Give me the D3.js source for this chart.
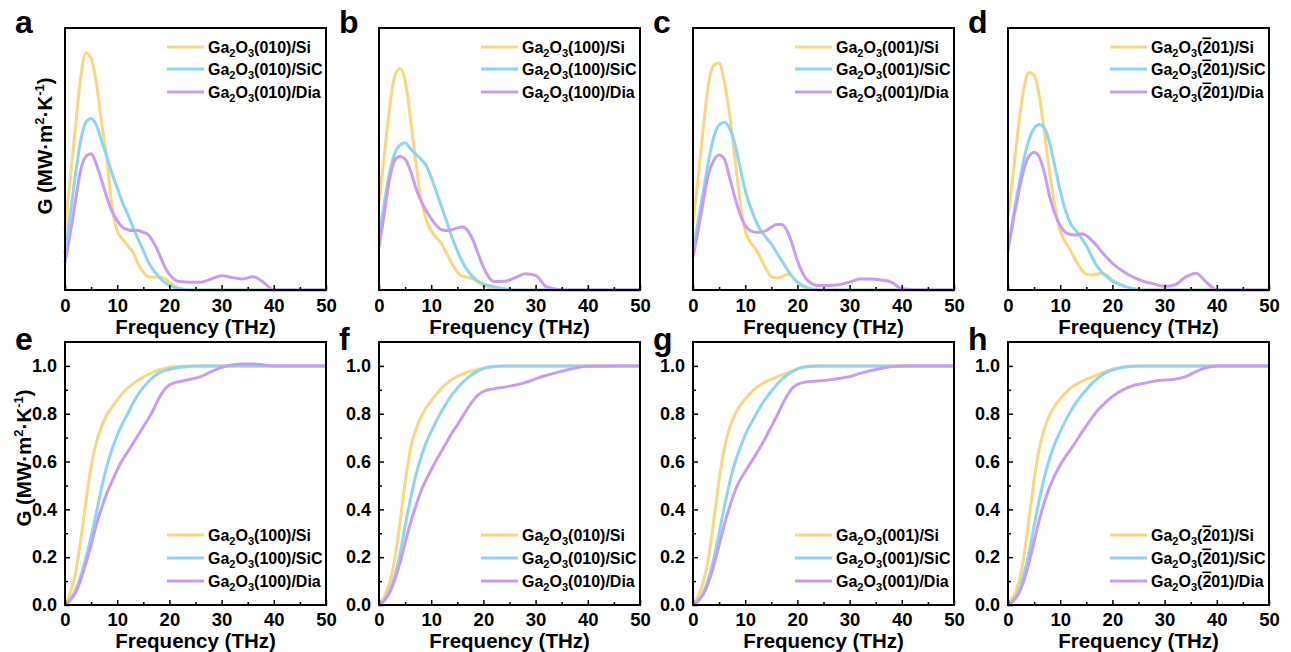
<!DOCTYPE html>
<html lang="en">
<head>
<meta charset="utf-8">
<title>Ga2O3 interface conductance spectra</title>
<script src="https://cdn.jsdelivr.net/npm/d3@7"></script>
<style>
  body { margin: 0; background: #fff; }
  svg text { font-family: "Liberation Sans", Arial, sans-serif; font-weight: bold; fill: #000; }
</style>
</head>
<body>
<div id="chart"></div>
<script>
// frequency grid (THz) shared by every curve
const freq = [0,1,2,3,4,5,6,7,8,9,10,11,12,13,14,15,16,17,18,19,20,22,24,26,28,30,32,34,36,38,40,45,50];

// spectral conductance, top row (arbitrary units, 1 = frame top)
const spec010Si  = [0.23,0.42,0.62,0.81,0.905,0.885,0.79,0.64,0.50,0.32,0.225,0.195,0.17,0.145,0.10,0.068,0.051,0.05,0.05,0.045,0.03, 0.005,0,0,0,0,0,0,0,0,0, 0,0];
const spec010SiC = [0.14,0.29,0.44,0.57,0.64,0.655,0.63,0.57,0.51,0.445,0.39,0.335,0.29,0.24,0.195,0.15,0.105,0.075,0.05,0.03,0.017, 0.005,0,0,0,0,0,0,0,0,0, 0,0];
const spec010Dia = [0.105,0.215,0.34,0.457,0.51,0.52,0.48,0.42,0.355,0.30,0.265,0.24,0.23,0.227,0.227,0.22,0.21,0.18,0.14,0.093,0.06, 0.032,0.03,0.03,0.042,0.054,0.048,0.042,0.051,0.03,0, 0,0];

const spec100Si  = [0.33,0.51,0.69,0.815,0.845,0.80,0.66,0.495,0.355,0.27,0.227,0.20,0.176,0.138,0.10,0.068,0.052,0.048,0.042,0.03,0.017, 0.005,0,0,0,0,0,0,0,0,0, 0,0];
const spec100SiC = [0.20,0.33,0.445,0.52,0.553,0.562,0.54,0.52,0.50,0.476,0.43,0.374,0.317,0.26,0.20,0.15,0.106,0.074,0.049,0.033,0.023, 0.013,0.005,0,0,0,0,0,0,0,0, 0,0];
const spec100Dia = [0.163,0.29,0.42,0.495,0.51,0.50,0.457,0.393,0.342,0.304,0.272,0.246,0.23,0.227,0.23,0.237,0.24,0.227,0.19,0.138,0.087, 0.032,0.033,0.046,0.062,0.056,0.013,0.003,0,0,0, 0,0];

const spec001Si  = [0.253,0.43,0.623,0.79,0.858,0.866,0.795,0.674,0.508,0.342,0.227,0.183,0.157,0.12,0.08,0.051,0.046,0.051,0.059,0.051,0.03, 0.004,0,0,0,0,0,0,0,0,0, 0,0];
const spec001SiC = [0.15,0.265,0.38,0.495,0.585,0.63,0.64,0.617,0.56,0.47,0.38,0.317,0.266,0.227,0.20,0.176,0.144,0.112,0.08,0.051,0.03, 0.008,0,0,0,0,0,0,0,0,0, 0,0];
const spec001Dia = [0.125,0.227,0.342,0.445,0.495,0.515,0.50,0.43,0.355,0.29,0.246,0.227,0.22,0.22,0.227,0.24,0.25,0.25,0.227,0.176,0.112, 0.036,0.017,0.017,0.02,0.03,0.042,0.042,0.038,0.03,0.005, 0,0];

const spec201Si  = [0.278,0.444,0.623,0.764,0.83,0.82,0.74,0.60,0.444,0.317,0.227,0.183,0.15,0.112,0.08,0.061,0.057,0.061,0.064,0.055,0.038, 0.017,0.004,0,0,0,0,0,0,0,0, 0,0];
const spec201SiC = [0.163,0.278,0.393,0.495,0.572,0.617,0.632,0.617,0.56,0.47,0.38,0.304,0.253,0.227,0.20,0.17,0.13,0.093,0.068,0.049,0.033, 0.017,0.005,0,0,0,0,0,0,0,0, 0,0];
const spec201Dia = [0.15,0.265,0.368,0.457,0.51,0.525,0.508,0.444,0.355,0.29,0.246,0.22,0.212,0.21,0.215,0.208,0.19,0.17,0.144,0.123,0.102, 0.072,0.049,0.033,0.023,0.014,0.02,0.049,0.064,0.03,0, 0,0];

// normalised cumulative conductance, bottom row
const cum100Si  = [0,0.049,0.13,0.27,0.43,0.58,0.68,0.746,0.795,0.827,0.858,0.885,0.907,0.925,0.94,0.953,0.965,0.975,0.983,0.989,0.994, 0.999,1,1,1,1,1,1,1,1,1, 1,1];
const cum100SiC = [0,0.024,0.06,0.12,0.195,0.286,0.384,0.488,0.58,0.65,0.71,0.757,0.80,0.843,0.88,0.91,0.935,0.955,0.97,0.98,0.986, 0.994,0.999,1,1,1,1,1,1,1,1, 1,1];
const cum100Dia = [0,0.02,0.05,0.105,0.174,0.25,0.335,0.404,0.467,0.516,0.565,0.607,0.64,0.675,0.71,0.746,0.78,0.82,0.865,0.9,0.92, 0.935,0.944,0.955,0.976,0.994,1.004,1.008,1.008,1.004,1.0, 1,1];

const cum010Si  = [0,0.035,0.09,0.19,0.34,0.51,0.65,0.73,0.785,0.823,0.854,0.882,0.907,0.927,0.944,0.956,0.966,0.974,0.98,0.986,0.99, 0.999,1,1,1,1,1,1,1,1,1, 1,1];
const cum010SiC = [0,0.02,0.056,0.12,0.21,0.33,0.44,0.537,0.614,0.676,0.725,0.77,0.81,0.847,0.88,0.907,0.93,0.95,0.966,0.979,0.989, 0.997,1,1,1,1,1,1,1,1,1, 1,1];
const cum010Dia = [0,0.018,0.05,0.105,0.174,0.26,0.34,0.41,0.474,0.523,0.565,0.607,0.644,0.683,0.72,0.753,0.788,0.823,0.855,0.879,0.893, 0.904,0.911,0.919,0.93,0.946,0.96,0.972,0.983,0.993,0.999, 1,1];

const cum001Si  = [0,0.038,0.098,0.2,0.355,0.523,0.655,0.74,0.795,0.833,0.862,0.886,0.907,0.921,0.934,0.944,0.953,0.962,0.97,0.978,0.989, 0.999,1,1,1,1,1,1,1,1,1, 1,1];
const cum001SiC = [0,0.018,0.052,0.112,0.195,0.30,0.41,0.51,0.593,0.655,0.711,0.755,0.795,0.832,0.865,0.894,0.92,0.943,0.962,0.976,0.987, 0.997,1,1,1,1,1,1,1,1,1, 1,1];
const cum001Dia = [0,0.017,0.046,0.098,0.167,0.25,0.335,0.41,0.474,0.523,0.558,0.593,0.628,0.665,0.704,0.746,0.788,0.833,0.874,0.907,0.923, 0.934,0.937,0.941,0.947,0.955,0.969,0.98,0.989,0.997,1, 1,1];

const cum201Si  = [0,0.035,0.09,0.195,0.355,0.523,0.655,0.74,0.795,0.833,0.862,0.886,0.907,0.921,0.934,0.944,0.953,0.962,0.97,0.979,0.986, 0.996,1,1,1,1,1,1,1,1,1, 1,1];
const cum201SiC = [0,0.02,0.056,0.126,0.216,0.33,0.44,0.537,0.614,0.676,0.725,0.77,0.81,0.845,0.874,0.9,0.925,0.945,0.962,0.974,0.983, 0.994,0.999,1,1,1,1,1,1,1,1, 1,1];
const cum201Dia = [0,0.017,0.046,0.098,0.174,0.265,0.356,0.432,0.495,0.544,0.586,0.62,0.651,0.683,0.718,0.749,0.78,0.81,0.833,0.854,0.872, 0.9,0.918,0.927,0.936,0.941,0.944,0.955,0.976,0.993,1, 1,1];

const substrates = ["Si", "SiC", "Dia"];
const colors = ["#f7d77f", "#8ed4f3", "#c99cf1"];
const xTicks = [0, 10, 20, 30, 40, 50];
const yTicks = [0, 0.2, 0.4, 0.6, 0.8, 1.0];

const panels = [
  {letter: "a", row: 0, col: 0, plane: "010", series: [spec010Si, spec010SiC, spec010Dia]},
  {letter: "b", row: 0, col: 1, plane: "100", series: [spec100Si, spec100SiC, spec100Dia]},
  {letter: "c", row: 0, col: 2, plane: "001", series: [spec001Si, spec001SiC, spec001Dia]},
  {letter: "d", row: 0, col: 3, plane: "201", series: [spec201Si, spec201SiC, spec201Dia]},
  {letter: "e", row: 1, col: 0, plane: "100", series: [cum100Si, cum100SiC, cum100Dia]},
  {letter: "f", row: 1, col: 1, plane: "010", series: [cum010Si, cum010SiC, cum010Dia]},
  {letter: "g", row: 1, col: 2, plane: "001", series: [cum001Si, cum001SiC, cum001Dia]},
  {letter: "h", row: 1, col: 3, plane: "201", series: [cum201Si, cum201SiC, cum201Dia]}
];

const W = 1291, H = 652;
const lefts = [65, 379, 693, 1008];
const pw = 261;
const rows = [{top: 28, bottom: 290}, {top: 342, bottom: 605}];

const svg = d3.select("#chart").append("svg")
    .attr("width", W)
    .attr("height", H)
    .attr("viewBox", [0, 0, W, H]);

// Ga2O3(hkl)/substrate label with sub- and overline tspans
function legendText(sel, plane, sub) {
  sel.append("tspan").text("Ga");
  sel.append("tspan").attr("font-size", 11).attr("dy", 4).text("2");
  sel.append("tspan").attr("dy", -4).text("O");
  sel.append("tspan").attr("font-size", 11).attr("dy", 4).text("3");
  sel.append("tspan").attr("dy", -4).text("(");
  if (plane === "201") {
    sel.append("tspan").style("text-decoration", "overline").text("2");
    sel.append("tspan").text("01");
  } else {
    sel.append("tspan").text(plane);
  }
  sel.append("tspan").text(")/" + sub);
}

panels.forEach(p => {
  const x0 = lefts[p.col], x1 = x0 + pw;
  const {top, bottom} = rows[p.row];
  const x = d3.scaleLinear().domain([0, 50]).range([x0, x1]);
  const y = p.row === 0
    ? d3.scaleLinear().domain([0, 1]).range([bottom, top])
    : d3.scaleLinear().domain([0, 1.1]).range([bottom, top]);

  const g = svg.append("g");

  // curves
  const line = d3.line()
      .x((d, i) => x(freq[i]))
      .y(d => y(d))
      .curve(d3.curveMonotoneX);
  p.series.forEach((s, k) => {
    g.append("path")
        .datum(s)
        .attr("fill", "none")
        .attr("stroke", colors[k])
        .attr("stroke-width", 3)
        .attr("stroke-linejoin", "round")
        .attr("d", line);
  });

  // x axis, inward ticks
  g.append("g")
      .attr("transform", `translate(0,${bottom})`)
      .call(d3.axisBottom(x).tickValues([5, 15, 25, 35, 45]).tickSize(-3).tickFormat(""))
      .call(a => a.select(".domain").remove())
      .call(a => a.selectAll("line").attr("stroke-width", 1.5));
  g.append("g")
      .attr("transform", `translate(0,${bottom})`)
      .call(d3.axisBottom(x).tickValues(xTicks).tickSize(-5).tickPadding(p.row === 0 ? 9 : 8).tickFormat(d3.format("d")))
      .call(a => a.select(".domain").remove())
      .call(a => a.selectAll("line").attr("stroke-width", 1.5))
      .call(a => a.selectAll("text").attr("font-size", 18.5).attr("font-family", null));

  if (p.row === 1) {
    g.append("g")
        .attr("transform", `translate(${x0},0)`)
        .call(d3.axisLeft(y).tickValues([0.1, 0.3, 0.5, 0.7, 0.9]).tickSize(-3).tickFormat(""))
        .call(a => a.select(".domain").remove())
        .call(a => a.selectAll("line").attr("stroke-width", 1.5));
    g.append("g")
        .attr("transform", `translate(${x0},0)`)
        .call(d3.axisLeft(y).tickValues(yTicks).tickSize(-5).tickPadding(8).tickFormat(d3.format(".1f")))
        .call(a => a.select(".domain").remove())
        .call(a => a.selectAll("line").attr("stroke-width", 1.5))
        .call(a => a.selectAll("text").attr("font-size", 18).attr("font-family", null));
  }

  // frame
  g.append("rect")
      .attr("x", x0).attr("y", top)
      .attr("width", pw).attr("height", bottom - top)
      .attr("fill", "none")
      .attr("stroke", "#000")
      .attr("stroke-width", 2);

  // axis title
  g.append("text")
      .attr("x", (x0 + x1) / 2)
      .attr("y", p.row === 0 ? 327 : 641)
      .attr("dy", "0.35em")
      .attr("text-anchor", "middle")
      .attr("font-size", 20.5)
      .text("Frequency (THz)");

  // panel letter
  g.append("text")
      .attr("x", p.col === 0 ? 15 : x0 - 40)
      .attr("y", p.row === 0 ? 33 : 350)
      .attr("font-size", 32)
      .text(p.letter);

  // legend
  const legY = p.row === 0 ? [47, 69, 92] : [535, 558, 581];
  substrates.forEach((sub, k) => {
    g.append("line")
        .attr("x1", x0 + 102).attr("x2", x0 + 139)
        .attr("y1", legY[k]).attr("y2", legY[k])
        .attr("stroke", colors[k])
        .attr("stroke-width", 3);
    g.append("text")
        .attr("x", x0 + 143)
        .attr("y", legY[k] + 5.5)
        .attr("font-size", 16)
        .call(t => legendText(t, p.plane, sub));
  });
});

// y axis titles
function yTitle(cx, cy) {
  const t = svg.append("text")
      .attr("transform", `translate(${cx},${cy}) rotate(-90)`)
      .attr("dy", "0.35em")
      .attr("text-anchor", "middle")
      .attr("font-size", 20.5);
  t.append("tspan").text("G (MW·m");
  t.append("tspan").attr("font-size", 13).attr("dy", -8).text("2");
  t.append("tspan").attr("dy", 8).text("·K");
  t.append("tspan").attr("font-size", 13).attr("dy", -8).text("-1");
  t.append("tspan").attr("dy", 8).text(")");
}
yTitle(45, 146);
yTitle(24, 458);
</script>
</body>
</html>
